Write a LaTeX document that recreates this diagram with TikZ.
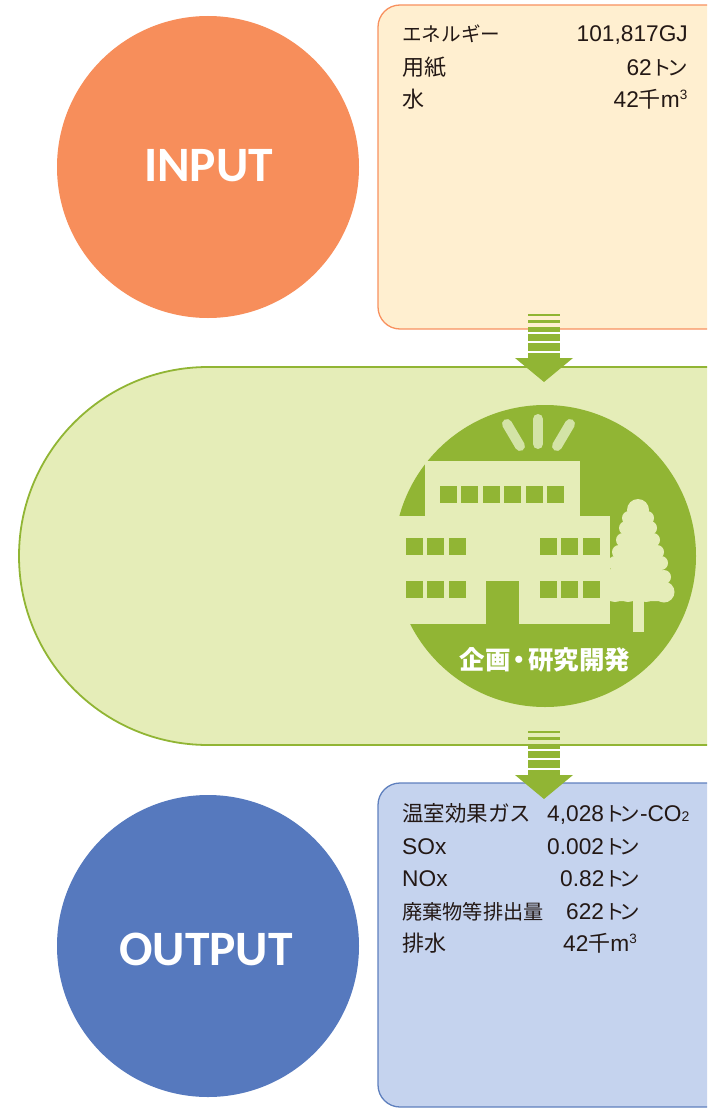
\documentclass[tikz,border=0pt]{standalone}
\usepackage{fontspec}
\setmainfont{Liberation Sans}
\newfontfamily\cjkfont{Noto Sans CJK JP}
\newfontfamily\capfont{Carlito}
\newcommand{\jp}[2][22]{{\cjkfont\fontsize{#1}{#1}\selectfont #2}}
\newcommand{\ton}{\jp[20.5]{ト\hspace{-5pt}ン}}
\newcommand{\sq}{\textsuperscript{\fontsize{13.5}{13.5}\selectfont 3}}
\definecolor{inorange}{HTML}{F78E5B}
\definecolor{inedge}{HTML}{F8915F}
\definecolor{infill}{HTML}{FFEFD0}
\definecolor{outblue}{HTML}{5679BE}
\definecolor{outedge}{HTML}{5F80BE}
\definecolor{outfill}{HTML}{C5D3EE}
\definecolor{leaf}{HTML}{91B534}
\definecolor{pale}{HTML}{E5EDB8}
\definecolor{ray}{HTML}{D3E3A6}
\definecolor{ink}{HTML}{231815}
\tikzset{
  bigdot/.style={circle,minimum size=302pt,inner sep=0pt},
  bigword/.style={inner sep=0pt,text=white,font=\capfont\bfseries\fontsize{49.5}{49.5}\selectfont},
  databox/.style={draw,line width=1.3pt,rounded corners=22pt,minimum width=382pt,minimum height=324pt,inner sep=0pt},
  item/.style={anchor=base west,inner sep=0pt,text=ink,font=\fontsize{22.7}{22.7}\selectfont},
  itemr/.style={item,anchor=base east},
  win/.style={fill=leaf},
}
\begin{document}
\begin{tikzpicture}[x=1pt,y=-1pt]
\useasboundingbox (0,0) rectangle (707,1108);
\clip (0,0) rectangle (707,1108);

\node[databox,draw=inedge,fill=infill] (inbox) at (569,167) {};
\node[databox,draw=outedge,fill=outfill] (outbox) at (569,945) {};
\node[draw=leaf,fill=pale,line width=1.8pt,rounded corners=189pt,minimum width=900pt,minimum height=378pt,inner sep=0pt] (plant) at (469,556) {};

\node[bigdot,fill=inorange] (input) at (208,167) {};
\node[bigdot,fill=outblue] (output) at (208,946) {};
\node[bigword] (inputword) at (208.5,166) {INPUT};
\node[bigword] (outputword) at (206,949) {OUTPUT};

% striped arrows
\foreach \yy in {0,417} {
  \foreach \a/\b in {314/316,320/323,327/332,334/341,343/351,353/359} {
    \fill[leaf] (528,\a+\yy) rectangle (560,\b+\yy);
  }
  \fill[leaf] (515,358+\yy) -- (573,358+\yy) -- (544,382+\yy) -- cycle;
}

% plant badge
\begin{scope}
\fill[leaf] (545,556) circle (151);
\fill[pale] (425,461) rectangle (580,517);
\fill[pale] (380,516) rectangle (610,624);
\fill[leaf] (486,581) rectangle (519,625);
\foreach \x in {440,461,483,504,526,547} {
  \fill[win] (\x,486) rectangle +(17,17);
}
\foreach \x in {406,427,449,540,561,583} {
  \fill[win] (\x,538) rectangle +(17,17);
  \fill[win] (\x,581) rectangle +(17,17);
}
% rays
\draw[ray,line width=10pt,line cap=round] (538,419) -- (538,444);
\draw[ray,line width=10pt,line cap=round] (507,424) -- (520,446);
\draw[ray,line width=10pt,line cap=round] (570,424) -- (557,446);
% tree
\fill[pale] (633,595) rectangle (644,632);
\fill[pale] (638,505) -- (668,585) -- (668,601) -- (610,601) -- (610,570) -- cycle;
\fill[pale] (638,510) circle (11);
\foreach \dy/\hw/\rr in {518/9/7,528/12/7,540/15/7,552/19/7,563/23/7,577/26/7} {
  \fill[pale] (638-\hw,\dy) circle (\rr);
  \fill[pale] (638+\hw,\dy) circle (\rr);
}
\fill[pale] (664,592) circle (10.5);
\fill[pale] (646,592) circle (10);
\fill[pale] (628,592) circle (10);
\fill[pale] (615,592) circle (10);
\end{scope}
\node[inner sep=0pt,text=white,font=\cjkfont\bfseries\fontsize{25.5}{25.5}\selectfont] (plantlabel) at (545,660) {企画\hspace{-4pt}・\hspace{-4pt}研究開発};

% input list
\node[item] (in1) at (402,42) {\jp[19.6]{エネルギー}};
\node[item] (in2) at (402,75) {\jp{用紙}};
\node[item] (in3) at (402,107) {\jp{水}};
\node[itemr] (inv1) at (688,42) {101,817GJ};
\node[itemr] (inv2) at (688,75) {62\ton};
\node[itemr] (inv3) at (688,107) {42\jp{千}m\sq};

% output list
\node[item] (out1) at (402,821) {\jp[21.5]{温室効果ガス}};
\node[item] (out2) at (402,854) {SOx};
\node[item] (out3) at (402,886) {NOx};
\node[item] (out4) at (402,919) {\jp[20.2]{廃棄物等排出量}};
\node[item] (out5) at (402,951) {\jp{排水}};
\node[item] (outv1) at (547,821) {4,028\ton-CO{\fontsize{14}{14}\selectfont 2}};
\node[item] (outv2) at (547,854) {0.002\ton};
\node[item] (outv3) at (560,886) {0.82\ton};
\node[item] (outv4) at (566,919) {622\ton};
\node[item] (outv5) at (563,951) {42\jp{千}m\sq};
\end{tikzpicture}
\end{document}
